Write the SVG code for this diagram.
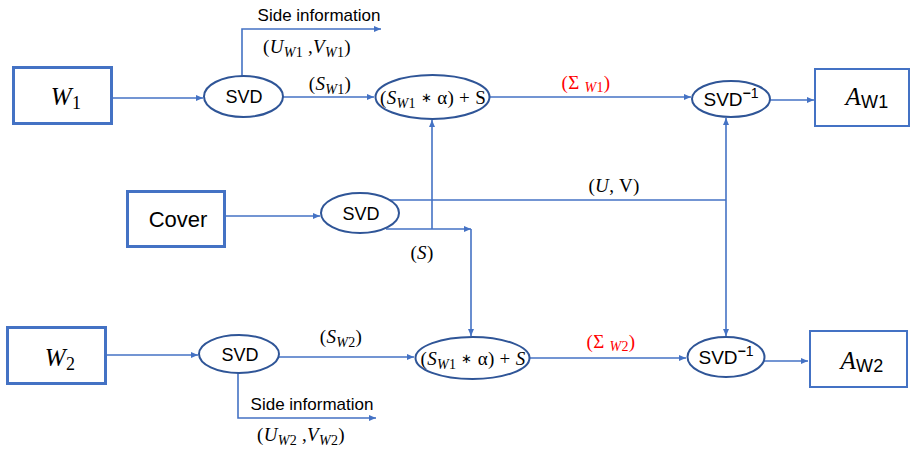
<svg xmlns="http://www.w3.org/2000/svg" width="911" height="449" viewBox="0 0 911 449">
  <style>
    .box { fill: #ffffff; stroke: #4472C4; stroke-width: 3; }
    .box2 { fill: #ffffff; stroke: #4472C4; stroke-width: 2; }
    .ell { fill: #ffffff; stroke: #2F5597; stroke-width: 2; }
    .wire { fill: none; stroke: #4472C4; stroke-width: 1.6; }
    .sans { font-family: "Liberation Sans", Arial, sans-serif; fill: #000000; }
    .math { font-family: "Liberation Serif", "Times New Roman", serif; fill: #000000; letter-spacing: 0.3px; }
    .red { fill: #FF0000; }
    .it { font-style: italic; }
    .sub { font-size: 14px; }
    .star { font-size: 13px; }
  </style>
  <defs>
    <marker id="arrow" markerUnits="userSpaceOnUse" markerWidth="8" markerHeight="8" viewBox="0 0 8 8" refX="7" refY="4" orient="auto">
      <path d="M0,1 L7,4 L0,7 Z" fill="#4472C4"/>
    </marker>
  </defs>

  <!-- connectors -->
  <g id="connectors">
    <path class="wire" d="M112,98 H203" marker-end="url(#arrow)"/>
    <path class="wire" d="M242,76 V29 H381" marker-end="url(#arrow)"/>
    <path class="wire" d="M283,97 H374" marker-end="url(#arrow)"/>
    <path class="wire" d="M489,97 H691" marker-end="url(#arrow)"/>
    <path class="wire" d="M770,100 H814" marker-end="url(#arrow)"/>
    <path class="wire" d="M225,216 H320" marker-end="url(#arrow)"/>
    <path class="wire" d="M390,200 H726"/>
    <path class="wire" d="M726,200 V118" marker-end="url(#arrow)"/>
    <path class="wire" d="M726,200 V336" marker-end="url(#arrow)"/>
    <path class="wire" d="M386,229 H471" marker-end="url(#arrow)"/>
    <path class="wire" d="M471,229 V336" marker-end="url(#arrow)"/>
    <path class="wire" d="M432,229 V120" marker-end="url(#arrow)"/>
    <path class="wire" d="M106,355 H198" marker-end="url(#arrow)"/>
    <path class="wire" d="M279,357 H414" marker-end="url(#arrow)"/>
    <path class="wire" d="M238,373 V418 H376" marker-end="url(#arrow)"/>
    <path class="wire" d="M529,358 H686" marker-end="url(#arrow)"/>
    <path class="wire" d="M764,361 H808" marker-end="url(#arrow)"/>
  </g>

  <!-- edge labels -->
  <g id="labels">
    <text class="sans" x="319" y="21" font-size="17" text-anchor="middle">Side information</text>
    <text class="math" x="307" y="53" font-size="19" text-anchor="middle">(<tspan class="it">U</tspan><tspan class="sub" dy="4"><tspan class="it">W</tspan>1</tspan><tspan dy="-4"> ,</tspan><tspan class="it">V</tspan><tspan class="sub" dy="4"><tspan class="it">W</tspan>1</tspan><tspan dy="-4">)</tspan></text>
    <text class="math" x="330" y="90" font-size="19" text-anchor="middle">(<tspan class="it">S</tspan><tspan class="sub" dy="4"><tspan class="it">W</tspan>1</tspan><tspan dy="-4">)</tspan></text>
    <text class="math red" x="586" y="89" font-size="19" text-anchor="middle">(Σ <tspan class="sub" dy="3"><tspan class="it">W</tspan>1</tspan><tspan dy="-3">)</tspan></text>
    <text class="math" x="614" y="192" font-size="19" text-anchor="middle">(<tspan class="it">U</tspan>, V)</text>
    <text class="math" x="422" y="259" font-size="19" text-anchor="middle">(<tspan class="it">S</tspan>)</text>
    <text class="math" x="341" y="343" font-size="19" text-anchor="middle">(<tspan class="it">S</tspan><tspan class="sub" dy="4"><tspan class="it">W</tspan>2</tspan><tspan dy="-4">)</tspan></text>
    <text class="math red" x="611" y="348" font-size="19" text-anchor="middle">(Σ <tspan class="sub" dy="3"><tspan class="it">W</tspan>2</tspan><tspan dy="-3">)</tspan></text>
    <text class="sans" x="312" y="410" font-size="17" text-anchor="middle">Side information</text>
    <text class="math" x="301" y="441" font-size="19" text-anchor="middle">(<tspan class="it">U</tspan><tspan class="sub" dy="4"><tspan class="it">W</tspan>2</tspan><tspan dy="-4"> ,</tspan><tspan class="it">V</tspan><tspan class="sub" dy="4"><tspan class="it">W</tspan>2</tspan><tspan dy="-4">)</tspan></text>
  </g>

  <!-- input blocks -->
  <g id="w1">
    <rect class="box" x="13.5" y="67.5" width="98" height="56"/>
    <text class="math" x="66" y="105" font-size="25" text-anchor="middle"><tspan class="it">W</tspan><tspan font-size="18" dy="4">1</tspan></text>
  </g>
  <g id="cover">
    <rect class="box" x="127.5" y="191.5" width="97" height="55"/>
    <text class="sans" x="178" y="227" font-size="22" text-anchor="middle">Cover</text>
  </g>
  <g id="w2">
    <rect class="box" x="7.5" y="327.5" width="98" height="56"/>
    <text class="math" x="60" y="366" font-size="25" text-anchor="middle"><tspan class="it">W</tspan><tspan font-size="18" dy="4">2</tspan></text>
  </g>

  <!-- decompositions -->
  <g id="svd-w1">
    <ellipse class="ell" cx="243.5" cy="96.5" rx="39.5" ry="20.5"/>
    <text class="sans" x="244" y="103" font-size="18" text-anchor="middle">SVD</text>
  </g>
  <g id="svd-cover">
    <ellipse class="ell" cx="360" cy="213" rx="39" ry="20"/>
    <text class="sans" x="361" y="220" font-size="18" text-anchor="middle">SVD</text>
  </g>
  <g id="svd-w2">
    <ellipse class="ell" cx="239" cy="354" rx="40" ry="19"/>
    <text class="sans" x="240" y="361" font-size="18" text-anchor="middle">SVD</text>
  </g>

  <!-- embedding -->
  <g id="embed-w1">
    <ellipse class="ell" cx="432.5" cy="97" rx="57" ry="22"/>
    <text class="math" x="433" y="104" font-size="19" text-anchor="middle">(<tspan class="it">S</tspan><tspan class="sub" dy="4"><tspan class="it">W</tspan>1</tspan><tspan dy="-4"> </tspan><tspan class="star" dy="-2">∗</tspan><tspan dy="2"> α) + S</tspan></text>
  </g>
  <g id="embed-w2">
    <ellipse class="ell" cx="472.5" cy="358" rx="57" ry="21"/>
    <text class="math" x="473" y="365" font-size="19" text-anchor="middle">(<tspan class="it">S</tspan><tspan class="sub" dy="4"><tspan class="it">W</tspan>1</tspan><tspan dy="-4"> </tspan><tspan class="star" dy="-2">∗</tspan><tspan dy="2"> α) + </tspan><tspan class="it">S</tspan></text>
  </g>

  <!-- reconstruction -->
  <g id="isvd-w1">
    <ellipse class="ell" cx="731" cy="99" rx="39" ry="18"/>
    <text class="sans" x="731" y="106" font-size="19" text-anchor="middle">SVD<tspan font-size="14" dy="-8"><tspan font-weight="bold">−</tspan>1</tspan></text>
  </g>
  <g id="isvd-w2">
    <ellipse class="ell" cx="726" cy="357" rx="38.5" ry="20"/>
    <text class="sans" x="726" y="364" font-size="19" text-anchor="middle">SVD<tspan font-size="14" dy="-8"><tspan font-weight="bold">−</tspan>1</tspan></text>
  </g>

  <!-- outputs -->
  <g id="a-w1">
    <rect class="box2" x="815" y="69" width="94" height="57"/>
    <text class="math" x="867" y="105" font-size="25" text-anchor="middle"><tspan class="it">A</tspan><tspan font-family="Liberation Sans, Arial, sans-serif" font-size="18" dy="3">W1</tspan></text>
  </g>
  <g id="a-w2">
    <rect class="box2" x="810" y="331" width="97" height="56"/>
    <text class="math" x="862" y="369" font-size="25" text-anchor="middle"><tspan class="it">A</tspan><tspan font-family="Liberation Sans, Arial, sans-serif" font-size="18" dy="3">W2</tspan></text>
  </g>
</svg>
